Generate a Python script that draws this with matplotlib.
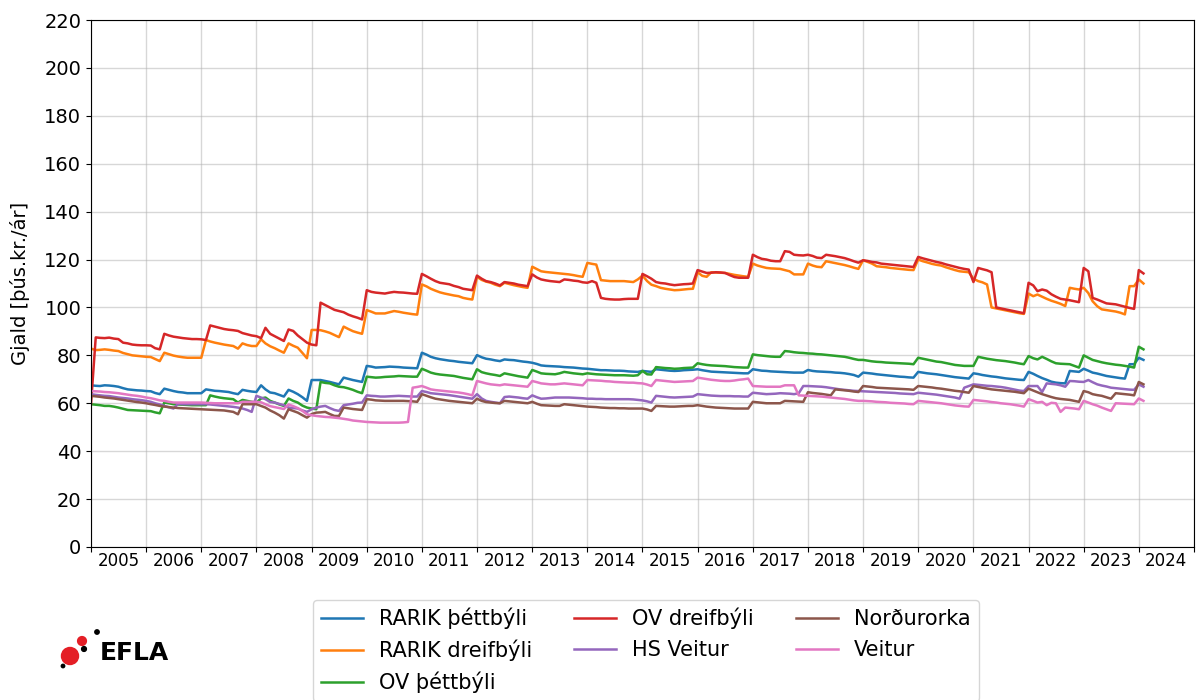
import matplotlib
matplotlib.use('Agg')
import matplotlib.pyplot as plt
import matplotlib.dates as mdates
import matplotlib.ticker as mticker
import pandas as pd

plt.rcParams['font.family'] = ['DejaVu Sans']
plt.rcParams['font.size'] = 14

# monthly values, Jan 2005 .. Feb 2024 (one row per year)
rarik_thettbyli = (
    [67.5, 67.3, 67.2, 67.5, 67.4, 67.2, 66.9, 66.3, 65.8, 65.6, 65.4, 65.3]
    + [65.1, 65, 64.3, 63.8, 66.1, 65.6, 65.1, 64.7, 64.5, 64.2, 64.2, 64.2]
    + [64.2, 65.8, 65.5, 65.2, 65.1, 64.9, 64.7, 64.2, 63.8, 65.6, 65.2, 64.9]
    + [64.7, 67.5, 65.8, 64.5, 64.2, 63.5, 62.8, 65.6, 64.8, 63.8, 62.5, 61]
    + [69.7, 69.7, 69.7, 69.3, 68.9, 68.4, 67.9, 70.7, 70.2, 69.7, 69.3, 68.9]
    + [75.6, 75.3, 74.9, 75, 75.1, 75.3, 75.2, 75.1, 74.9, 74.8, 74.7, 74.6]
    + [81.1, 80.3, 79.4, 78.8, 78.4, 78.1, 77.8, 77.6, 77.3, 77.1, 76.9, 76.7]
    + [80.1, 79.2, 78.6, 78.3, 77.9, 77.6, 78.3, 78.1, 78, 77.7, 77.4, 77.2]
    + [76.9, 76.4, 75.8, 75.6, 75.5, 75.4, 75.3, 75.1, 75, 74.9, 74.7, 74.5]
    + [74.4, 74.2, 74, 73.8, 73.8, 73.7, 73.6, 73.6, 73.5, 73.3, 73.2, 73.1]
    + [73.5, 73.3, 73.1, 74.2, 74, 73.8, 73.6, 73.5, 73.6, 73.8, 73.9, 74]
    + [74.2, 73.8, 73.5, 73.2, 73.1, 73, 72.9, 72.8, 72.7, 72.6, 72.5, 72.5]
    + [74.2, 73.9, 73.6, 73.5, 73.3, 73.2, 73.1, 73, 72.9, 72.8, 72.8, 72.8]
    + [73.9, 73.5, 73.3, 73.2, 73.1, 73, 72.8, 72.7, 72.5, 72.2, 71.8, 71.1]
    + [72.8, 72.6, 72.4, 72.1, 71.9, 71.7, 71.5, 71.3, 71.1, 71, 70.8, 70.7]
    + [73.1, 72.8, 72.5, 72.3, 72.1, 71.8, 71.5, 71.2, 70.9, 70.7, 70.5, 70.3]
    + [72.5, 72.2, 71.8, 71.5, 71.2, 71, 70.7, 70.4, 70.2, 70, 69.8, 69.7]
    + [73.1, 72.3, 71.4, 70.5, 69.8, 69, 68.6, 68.4, 68.3, 73.5, 73.3, 73.1]
    + [74.4, 73.6, 72.8, 72.4, 71.9, 71.4, 71.1, 70.8, 70.5, 70.3, 76.3, 76.3]
    + [79, 78.1]
)

rarik_dreifbyli = (
    [82.8, 82.2, 82.3, 82.5, 82.3, 82, 81.8, 81, 80.5, 80, 79.8, 79.6]
    + [79.4, 79.3, 78.5, 77.6, 81.1, 80.5, 79.9, 79.5, 79.2, 79, 79, 79]
    + [79, 86.4, 85.8, 85.3, 84.9, 84.5, 84.2, 83.9, 82.8, 85, 84.3, 83.9]
    + [83.9, 86.7, 85, 83.8, 83, 82, 81.1, 85, 84, 83.2, 81, 78.8]
    + [90.6, 90.6, 90.5, 90, 89.4, 88.5, 87.6, 92, 91, 90.1, 89.5, 89]
    + [98.9, 98.2, 97.5, 97.5, 97.5, 98, 98.5, 98.2, 97.8, 97.5, 97.2, 97]
    + [109.6, 108.8, 107.8, 107, 106.3, 105.8, 105.4, 105, 104.7, 104, 103.6, 103.3]
    + [112.8, 111.5, 110.8, 110.3, 109.5, 108.9, 110.3, 109.8, 109.3, 108.9, 108.5, 108.2]
    + [117, 116, 115.1, 114.8, 114.6, 114.4, 114.2, 114, 113.8, 113.5, 113.1, 112.8]
    + [118.6, 118.2, 117.9, 111.4, 111.2, 111, 111, 111, 111, 110.8, 110.6, 111.7]
    + [113.3, 111, 109.5, 108.9, 108.2, 107.8, 107.5, 107.2, 107.3, 107.5, 107.7, 107.8]
    + [114.7, 113.2, 112.8, 114.7, 114.6, 114.5, 114.4, 114, 113.6, 113.3, 113, 112.8]
    + [118.3, 117.5, 117, 116.5, 116.3, 116.2, 116.1, 115.6, 115.1, 113.8, 113.8, 113.8]
    + [118.3, 117.5, 117, 116.8, 119.3, 118.9, 118.5, 118.1, 117.7, 117.2, 116.6, 116.1]
    + [119.7, 119, 118.3, 117.2, 117, 116.8, 116.5, 116.3, 116.1, 115.9, 115.7, 115.6]
    + [120, 119.3, 118.8, 118.2, 117.8, 117.5, 116.8, 116.2, 115.6, 115.1, 114.9, 114.7]
    + [112, 111, 110.5, 109.6, 100, 99.6, 99.2, 98.8, 98.4, 98, 97.6, 97.3]
    + [105.8, 104.7, 105.4, 104.5, 103.6, 102.8, 102.2, 101.5, 100.6, 108.2, 107.8, 107.5]
    + [108.2, 106, 102.6, 100.5, 99.2, 98.9, 98.6, 98.3, 97.8, 97.1, 108.9, 108.9]
    + [111.7, 110]
)

ov_thettbyli = (
    [59.6, 59.4, 59.2, 58.9, 58.9, 58.6, 58.2, 57.7, 57.2, 57.1, 57, 56.9]
    + [56.8, 56.7, 56.2, 55.8, 60.3, 60, 59.6, 59.5, 59.4, 59.3, 59.2, 59.2]
    + [59.2, 59.2, 63.3, 62.8, 62.4, 62.1, 61.9, 61.7, 60.3, 61.4, 61, 60.6]
    + [60.3, 62, 62.4, 61, 60.3, 59.5, 58.9, 62, 61, 60.3, 59, 58.2]
    + [57.8, 57.5, 68.9, 68.5, 68.3, 67.5, 66.9, 66.7, 66.2, 65.6, 64.8, 64.2]
    + [71.1, 70.9, 70.7, 70.8, 71, 71.1, 71.2, 71.4, 71.3, 71.2, 71.1, 71.1]
    + [74.4, 73.6, 72.8, 72.3, 72, 71.8, 71.6, 71.4, 71, 70.6, 70.3, 70]
    + [74.2, 73, 72.5, 72.1, 71.8, 71.4, 72.5, 72.1, 71.7, 71.3, 71, 70.7]
    + [73.9, 73.2, 72.5, 72.3, 72.2, 72.1, 72.5, 73.1, 72.8, 72.5, 72.3, 72.1]
    + [72.5, 72.3, 72.1, 72, 71.9, 71.8, 71.7, 71.7, 71.7, 71.6, 71.5, 71.7]
    + [73.5, 72.1, 72, 75.1, 74.9, 74.7, 74.6, 74.4, 74.5, 74.7, 74.8, 74.9]
    + [76.7, 76.3, 76, 75.8, 75.7, 75.6, 75.5, 75.3, 75.1, 75, 74.9, 74.9]
    + [80.4, 80.1, 79.9, 79.7, 79.5, 79.4, 79.4, 81.8, 81.6, 81.3, 81.1, 81]
    + [80.8, 80.7, 80.5, 80.4, 80.2, 80, 79.8, 79.6, 79.4, 79, 78.5, 78.1]
    + [78.1, 77.8, 77.5, 77.3, 77.2, 77, 76.9, 76.8, 76.7, 76.6, 76.5, 76.3]
    + [79, 78.6, 78.2, 77.8, 77.4, 77.2, 76.8, 76.4, 76, 75.8, 75.6, 75.6]
    + [75.6, 79.4, 79, 78.6, 78.3, 78, 77.8, 77.6, 77.3, 77, 76.6, 76.3]
    + [79.7, 78.8, 78.3, 79.4, 78.5, 77.5, 76.7, 76.5, 76.4, 76.3, 75.6, 74.9]
    + [80, 79, 78.1, 77.6, 77.1, 76.7, 76.4, 76.1, 75.9, 75.6, 75.3, 74.9]
    + [83.6, 82.5]
)

ov_dreifbyli = (
    [60, 87.5, 87.3, 87.2, 87.4, 87, 86.8, 85.3, 85, 84.5, 84.3, 84.2]
    + [84.2, 84.1, 83, 82.5, 89, 88.3, 87.8, 87.5, 87.2, 87, 86.8, 86.8]
    + [86.7, 86.4, 92.5, 92, 91.5, 91, 90.7, 90.5, 90.2, 89.3, 88.8, 88.3]
    + [88, 87.2, 91.5, 89, 88, 87, 86, 90.8, 90.2, 88.3, 86.8, 85.3]
    + [84.5, 84.2, 102, 101, 100, 99, 98.5, 98, 97, 96.3, 95.7, 95]
    + [107.2, 106.5, 106.2, 106, 105.8, 106.2, 106.5, 106.3, 106.2, 106, 105.8, 105.7]
    + [114, 113, 112, 111, 110.3, 110, 109.7, 109, 108.5, 107.8, 107.5, 107.2]
    + [113.3, 112, 111, 110.6, 110, 109.2, 110.6, 110.3, 110, 109.5, 109.2, 108.9]
    + [113.8, 112.5, 111.7, 111.3, 111, 110.8, 110.6, 111.7, 111.5, 111.2, 111, 110.5]
    + [110.3, 111, 110.3, 104, 103.6, 103.4, 103.3, 103.3, 103.5, 103.6, 103.6, 103.6]
    + [114, 113, 112, 110.6, 110.2, 110, 109.6, 109.3, 109.5, 109.7, 109.8, 110]
    + [115.6, 115, 114.4, 114.5, 114.7, 114.6, 114.4, 113.5, 112.7, 112.4, 112.4, 112.4]
    + [122, 121, 120.3, 120, 119.5, 119.3, 119.3, 123.5, 123.2, 122, 121.8, 121.7]
    + [122, 121.5, 120.8, 120.6, 122, 121.7, 121.4, 121, 120.6, 120, 119.3, 118.7]
    + [119.7, 119.4, 119, 118.8, 118.3, 118.1, 117.9, 117.7, 117.5, 117.3, 117.1, 116.9]
    + [121.1, 120.5, 120, 119.5, 119, 118.6, 118, 117.5, 117, 116.5, 116.1, 115.8]
    + [110.6, 116.5, 116, 115.5, 114.7, 100, 99.6, 99.2, 98.8, 98.4, 98, 97.6]
    + [110.3, 109.2, 106.8, 107.5, 107, 105.5, 104.5, 103.6, 103.3, 103, 102.6, 102.2]
    + [116.5, 115.1, 104, 103.3, 102.5, 101.7, 101.5, 101.3, 100.8, 100.3, 99.8, 99.4]
    + [115.6, 114.2]
)

hs_veitur = (
    [63.8, 63.5, 63.3, 63.1, 63, 62.7, 62.4, 62.2, 62, 61.7, 61.5, 61.3]
    + [61, 60.6, 60, 59.5, 58.9, 58.3, 57.8, 59.8, 59.6, 59.6, 59.6, 59.6]
    + [59.6, 59.6, 59.5, 59.3, 59.1, 58.9, 58.7, 58.5, 58.2, 57.8, 57.2, 56.4]
    + [63.1, 62.4, 61.7, 60.5, 60.3, 59.7, 59.2, 58.2, 58, 57.8, 57, 56.4]
    + [57.5, 58.2, 58.6, 58.9, 58, 57.2, 56.8, 59.2, 59.5, 59.8, 60.2, 60.3]
    + [63.3, 63.1, 63, 62.8, 62.8, 62.9, 63, 63.1, 63, 62.9, 62.8, 62.8]
    + [65.1, 64.7, 64.2, 64, 63.8, 63.6, 63.4, 63.1, 62.8, 62.5, 62.2, 61.9]
    + [63.8, 62, 61, 60.6, 60.3, 60, 62.6, 62.8, 62.6, 62.4, 62.1, 61.9]
    + [63.3, 62.5, 61.9, 62, 62.2, 62.4, 62.4, 62.4, 62.4, 62.3, 62.2, 62.1]
    + [61.9, 61.9, 61.8, 61.8, 61.7, 61.7, 61.7, 61.7, 61.7, 61.7, 61.6, 61.4]
    + [61.2, 60.8, 60.3, 63.1, 62.9, 62.7, 62.5, 62.4, 62.5, 62.6, 62.7, 62.8]
    + [63.8, 63.6, 63.4, 63.2, 63.1, 63, 63, 63, 62.9, 62.9, 62.8, 62.8]
    + [64.4, 64.2, 64, 63.8, 63.9, 64, 64.2, 64.1, 64, 63.8, 64.2, 67.2]
    + [67.2, 67.1, 67, 66.9, 66.7, 66.4, 66.1, 65.8, 65.6, 65.4, 65.2, 65.1]
    + [65, 64.9, 64.8, 64.7, 64.6, 64.5, 64.4, 64.3, 64.1, 64, 63.9, 63.8]
    + [64.4, 64.2, 64, 63.8, 63.6, 63.3, 63, 62.7, 62.4, 61.9, 66.5, 67.2]
    + [67.9, 67.7, 67.5, 67.3, 67.2, 67, 66.8, 66.5, 66.1, 65.7, 65.3, 65.1]
    + [67.2, 67.2, 67.2, 64.7, 68.3, 68.1, 67.9, 67.5, 66.9, 69.3, 69.2, 69]
    + [68.9, 69.7, 68.8, 67.9, 67.4, 67, 66.5, 66.3, 66.1, 65.9, 65.7, 65.6]
    + [67.9, 66.9]
)

nordurorka = (
    [63.1, 62.9, 62.7, 62.4, 62.2, 62, 61.7, 61.4, 61.1, 60.8, 60.5, 60.3]
    + [60, 59.6, 59.3, 58.9, 58.6, 58.4, 58.2, 58, 57.9, 57.8, 57.7, 57.6]
    + [57.5, 57.4, 57.3, 57.2, 57.1, 57, 56.7, 56.4, 55.4, 59.6, 59.6, 59.6]
    + [59.6, 58.9, 58.2, 57, 56.1, 55, 53.6, 57.5, 56.8, 56.1, 55, 54]
    + [55.5, 56.1, 56.2, 56.4, 55.5, 54.7, 54.7, 58.2, 57.9, 57.6, 57.4, 57.2]
    + [61.7, 61.5, 61.2, 61.1, 61, 61, 61, 61, 61, 60.9, 60.8, 60.6]
    + [63.8, 63.1, 62.5, 61.9, 61.6, 61.3, 61, 60.8, 60.6, 60.4, 60.2, 60]
    + [61.9, 61, 60.5, 60.3, 60.1, 60, 61, 60.8, 60.6, 60.4, 60.2, 60]
    + [60.6, 59.8, 59.2, 59.1, 59, 58.9, 58.9, 59.6, 59.4, 59.2, 59, 58.8]
    + [58.6, 58.5, 58.4, 58.2, 58.1, 58, 58, 57.9, 57.9, 57.8, 57.8, 57.8]
    + [57.8, 57.4, 56.8, 58.9, 58.8, 58.7, 58.6, 58.6, 58.7, 58.8, 58.9, 58.9]
    + [59.2, 58.9, 58.6, 58.4, 58.2, 58.1, 58, 57.9, 57.8, 57.8, 57.8, 57.8]
    + [60.6, 60.4, 60.2, 60, 60, 60, 60, 61, 60.9, 60.8, 60.7, 60.6]
    + [64.6, 64.3, 64.1, 63.9, 63.6, 63.3, 65.8, 65.6, 65.4, 65.2, 64.9, 64.7]
    + [67.2, 67, 66.8, 66.5, 66.4, 66.3, 66.2, 66.1, 66, 65.9, 65.8, 65.6]
    + [67.2, 67, 66.8, 66.6, 66.3, 66.1, 65.8, 65.5, 65.2, 65, 64.7, 64.4]
    + [67.2, 66.8, 66.5, 66.2, 65.8, 65.6, 65.4, 65.2, 65, 64.8, 64.5, 64.2]
    + [66.1, 65.3, 64.6, 63.8, 63.2, 62.6, 62.1, 61.8, 61.6, 61.4, 61, 60.6]
    + [65.1, 64.6, 63.8, 63.4, 63.1, 62.5, 61.9, 64.2, 64, 63.8, 63.6, 63.3]
    + [68.9, 67.9]
)

veitur = (
    [65.1, 65, 64.9, 64.7, 64.6, 64.4, 64.2, 63.9, 63.6, 63.3, 63.1, 62.8]
    + [62.4, 62.1, 61.7, 61.2, 61, 60.6, 60.3, 60.3, 60.3, 60.3, 60.3, 60.3]
    + [60.3, 60.2, 60.1, 60, 60, 60, 60, 60, 60, 60.6, 60.6, 60.6]
    + [60.6, 60.4, 59.6, 58.8, 58.4, 58, 57.6, 59.5, 58.8, 58, 56.8, 55.4]
    + [55, 54.7, 54.5, 54.3, 54.2, 54, 53.8, 53.5, 53.2, 52.8, 52.6, 52.4]
    + [52.2, 52.1, 52, 51.9, 51.9, 51.9, 51.9, 51.9, 52, 52.2, 66.5, 66.8]
    + [67.2, 66.5, 65.8, 65.5, 65.3, 65.1, 64.9, 64.7, 64.5, 64.2, 63.8, 63.3]
    + [69.3, 68.8, 68.3, 67.9, 67.7, 67.5, 67.9, 67.7, 67.5, 67.3, 67.1, 66.9]
    + [69.3, 68.8, 68.3, 68.1, 67.9, 67.9, 68.1, 68.3, 68.1, 67.9, 67.7, 67.5]
    + [69.7, 69.6, 69.5, 69.4, 69.2, 69.1, 68.9, 68.8, 68.7, 68.6, 68.6, 68.4]
    + [68.3, 67.8, 67.2, 69.7, 69.5, 69.3, 69.1, 68.9, 69, 69.1, 69.2, 69.3]
    + [70.7, 70.4, 70.1, 69.8, 69.6, 69.4, 69.3, 69.3, 69.5, 69.8, 70, 70.3]
    + [67.2, 67.1, 67, 66.9, 66.9, 66.9, 66.9, 67.5, 67.5, 67.5, 63.3, 63.2]
    + [63.1, 63, 62.9, 62.8, 62.6, 62.4, 62.2, 62, 61.8, 61.5, 61.2, 61]
    + [61, 60.9, 60.8, 60.6, 60.5, 60.4, 60.2, 60.1, 60, 59.9, 59.7, 59.6]
    + [61, 60.8, 60.6, 60.4, 60.2, 60, 59.7, 59.4, 59.1, 58.9, 58.7, 58.6]
    + [61.4, 61.2, 61, 60.8, 60.5, 60.3, 60, 59.8, 59.6, 59.3, 59, 58.6]
    + [61.7, 61, 60.3, 60.6, 59.2, 60.2, 60, 56.4, 58.2, 58, 57.8, 57.5]
    + [61, 60.3, 59.6, 59, 58.2, 57.5, 56.8, 60, 59.9, 59.8, 59.7, 59.6]
    + [62, 61]
)

series = [
    ('RARIK þéttbýli', rarik_thettbyli),
    ('RARIK dreifbýli', rarik_dreifbyli),
    ('OV þéttbýli', ov_thettbyli),
    ('OV dreifbýli', ov_dreifbyli),
    ('HS Veitur', hs_veitur),
    ('Norðurorka', nordurorka),
    ('Veitur', veitur),
]

dates = pd.date_range('2005-01-01', '2024-02-01', freq='MS')

fig = plt.figure(figsize=(11.98, 7.0), dpi=100)
ax = fig.add_axes([0.076, 0.2186, 0.9207, 0.7528])

for name, vals in series:
    assert len(vals) == len(dates), name
    ax.plot(dates, vals, linewidth=1.8, label=name)

ax.set_ylim(0, 220)
ax.set_yticks(range(0, 221, 20))
ax.set_xlim(pd.Timestamp('2005-01-01'), pd.Timestamp('2025-01-01'))
ax.xaxis.set_major_locator(mdates.YearLocator())
ax.xaxis.set_major_formatter(mticker.NullFormatter())
ax.xaxis.set_minor_locator(mdates.MonthLocator(bymonth=7))
ax.xaxis.set_minor_formatter(mdates.DateFormatter('%Y'))
ax.tick_params(axis='x', which='minor', length=0, labelsize=12)
ax.tick_params(axis='y', labelsize=14)
ax.grid(True, which='major', color='#b0b0b0', alpha=0.5, linewidth=1.0)
ax.set_ylabel('Gjald [þús.kr./ár]', fontsize=14, labelpad=10)

ax.legend(loc='upper center', bbox_to_anchor=(0.503, -0.08), ncol=3, fontsize=15)

# EFLA logo
logo = fig.add_axes([54 / 1198, 1 - 672 / 700, 120 / 1198, 47 / 700])
logo.set_xlim(0, 120)
logo.set_ylim(0, 47)
logo.axis('off')
logo.scatter([16, 28], [16, 31], s=[150, 40], color='#e41e26', zorder=3)
logo.scatter([9, 30, 43], [6, 23, 40], s=[6, 12, 10], color='black', zorder=3)
logo.text(46, 12, 'EFLA', fontsize=18, fontweight='bold', color='black', va='baseline')

fig.savefig('out.png', dpi=100)
